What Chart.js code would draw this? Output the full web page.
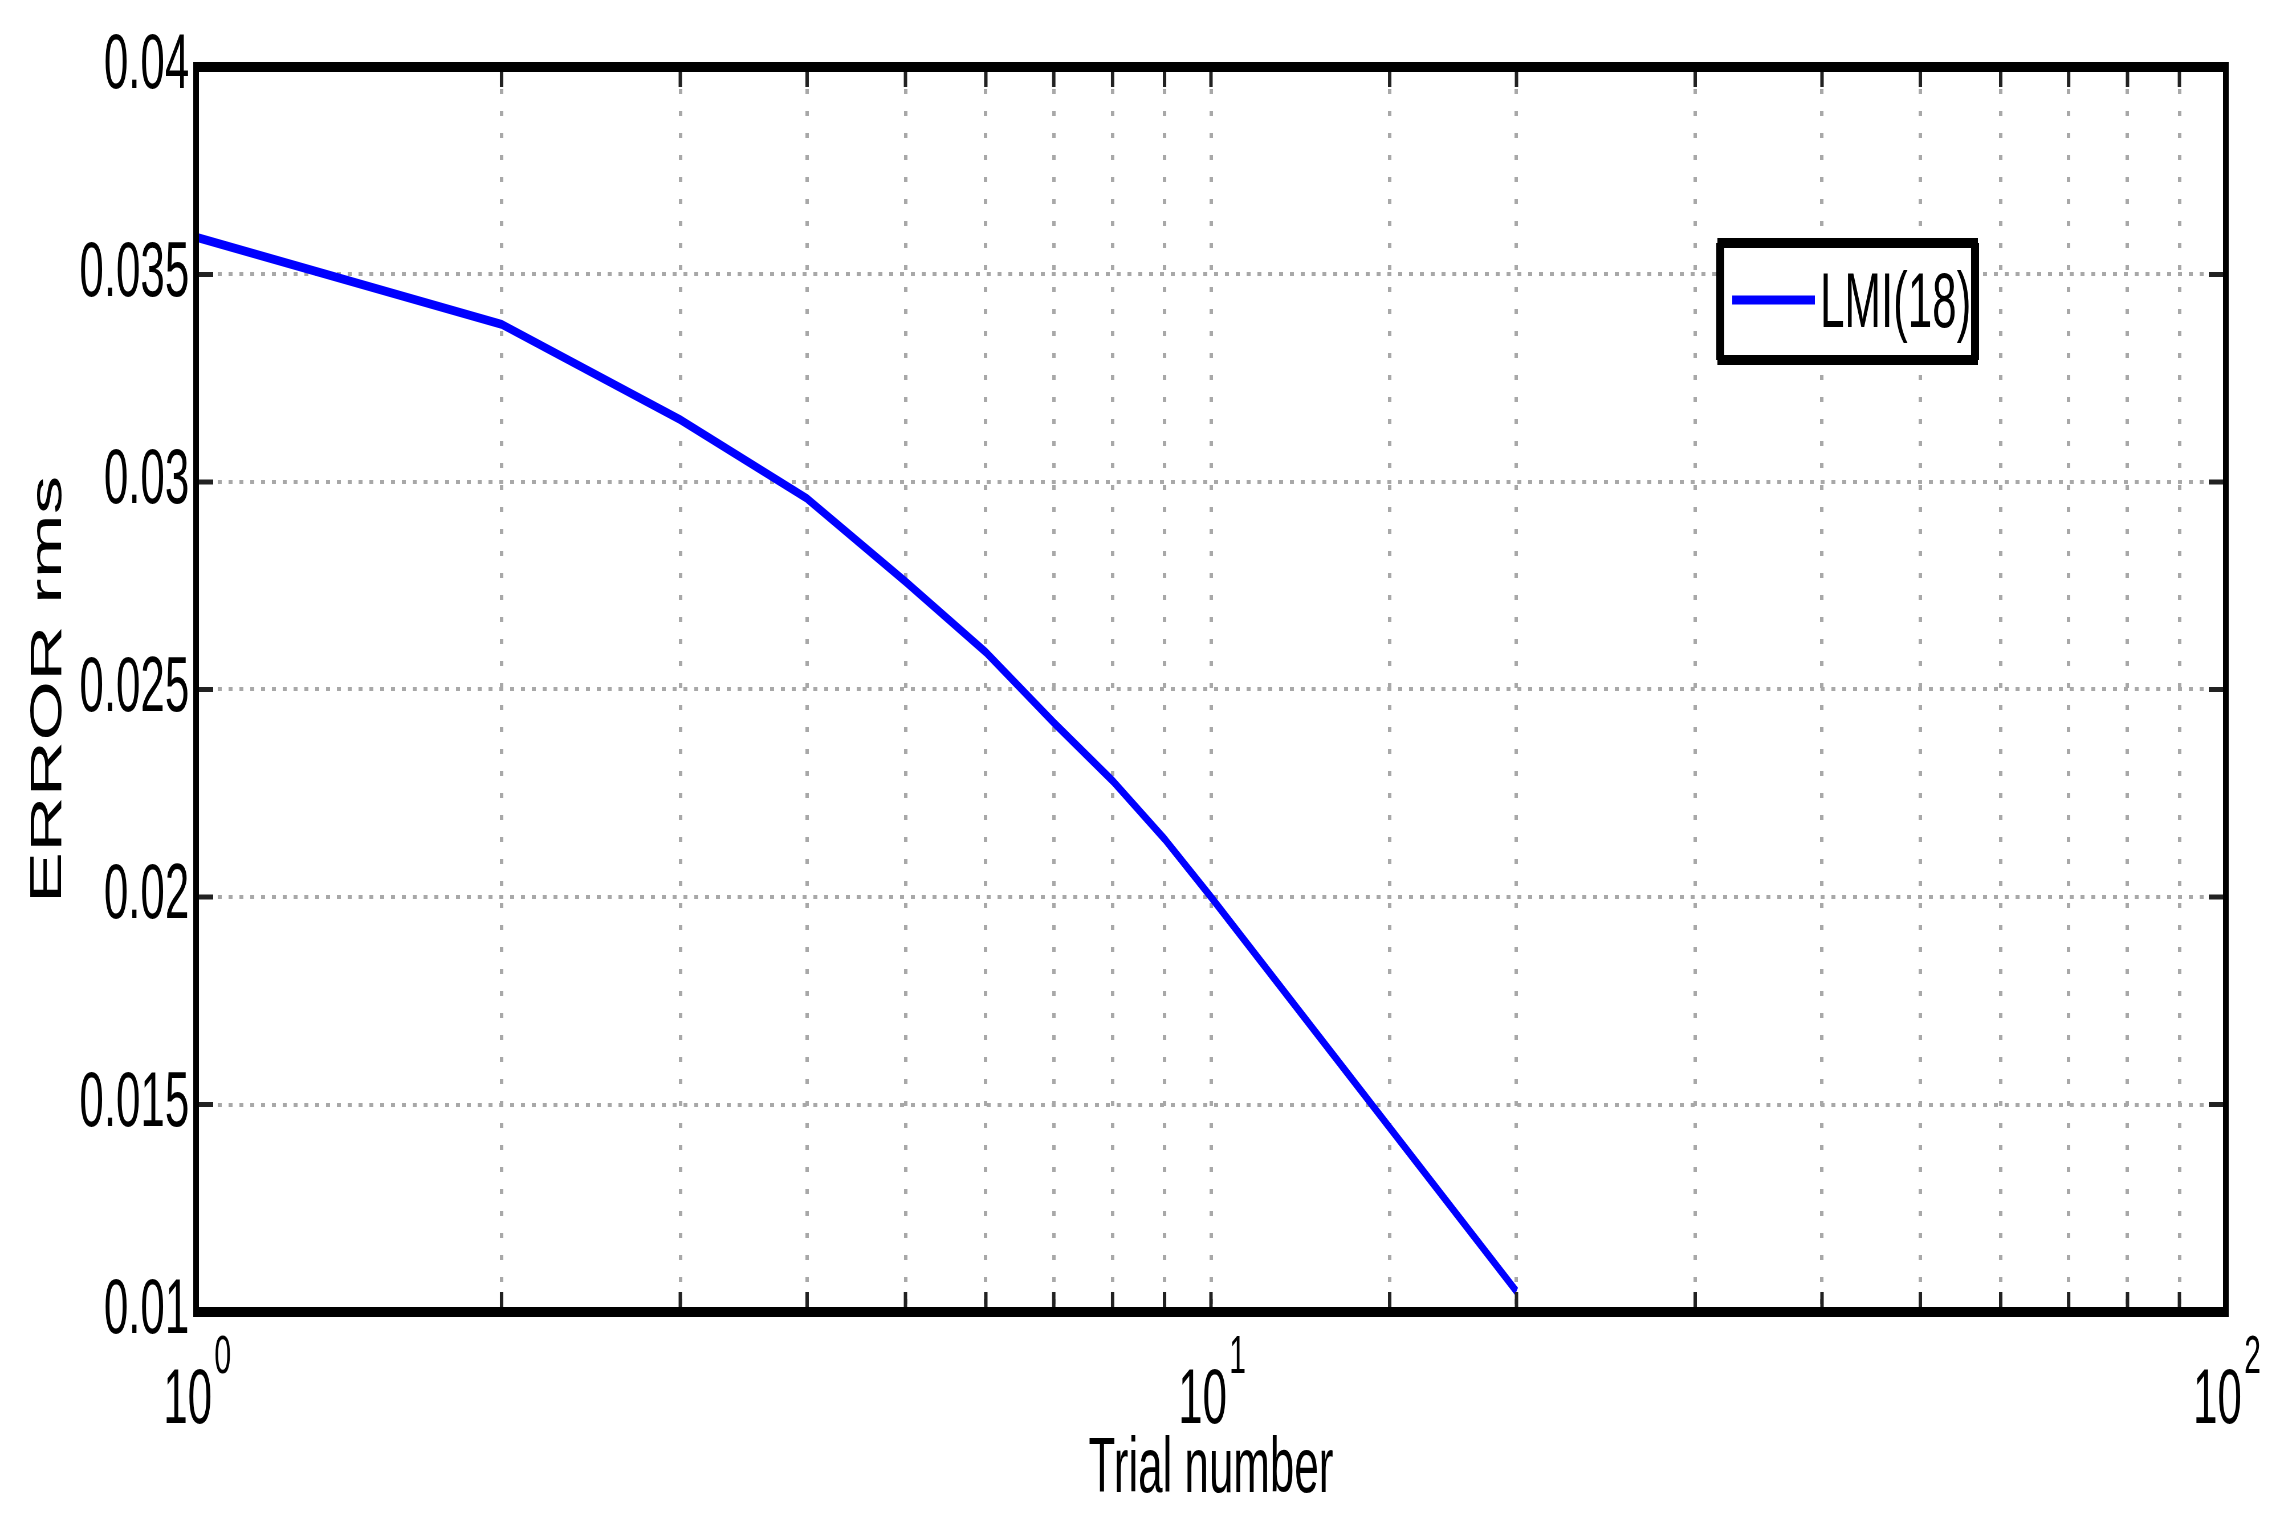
<!DOCTYPE html>
<html>
<head>
<meta charset="utf-8">
<script src="https://cdn.jsdelivr.net/npm/chart.js@4/dist/chart.umd.min.js"></script>
<style>
  html, body { margin: 0; padding: 0; background: #fff; overflow: hidden; }
  /* the reference figure is squeezed sideways, so draw wide and squeeze */
  #wrap { width: 3995px; height: 1532px; transform: scaleX(0.57); transform-origin: 0 0; }
</style>
</head>
<body>
<div id="wrap"><canvas id="errChart"></canvas></div>
<script>
const trials = [1, 2, 3, 4, 5, 6, 7, 8, 9, 10, 20];
const errorRms = [0.0359, 0.0338, 0.0315, 0.0296, 0.0276, 0.0259, 0.0242, 0.0228, 0.0214, 0.0200, 0.0105];
const seriesName = "LMI(18)";
const yTicks = [0.01, 0.015, 0.02, 0.025, 0.03, 0.035, 0.04];
const xDecades = [1, 10, 100];
const xTitle = "Trial number";
const yTitle = "ERROR rms";

const FONT = "'Liberation Sans', Arial, Helvetica, sans-serif";

// inner tick marks, frame, 10^n labels and the boxed legend, MATLAB style
const matlabFrame = {
  id: "matlabFrame",
  afterDraw(chart) {
    const ctx = chart.ctx;
    const a = chart.chartArea;
    const xs = chart.scales.x;
    const ys = chart.scales.y;
    ctx.save();

    ctx.strokeStyle = "#222";
    ctx.lineWidth = 6;
    ctx.beginPath();
    xs.ticks.forEach(t => {
      const px = xs.getPixelForValue(t.value);
      ctx.moveTo(px, a.bottom); ctx.lineTo(px, a.bottom - 20);
      ctx.moveTo(px, a.top); ctx.lineTo(px, a.top + 20);
    });
    ctx.stroke();
    ctx.lineWidth = 5;
    ctx.beginPath();
    ys.ticks.forEach(t => {
      const py = ys.getPixelForValue(t.value);
      ctx.moveTo(a.left, py); ctx.lineTo(a.left + 30, py);
      ctx.moveTo(a.right, py); ctx.lineTo(a.right - 30, py);
    });
    ctx.stroke();

    ctx.strokeStyle = "#000";
    ctx.lineWidth = 10;
    ctx.strokeRect(a.left, a.top, a.right - a.left, a.bottom - a.top);

    // decade labels with raised exponent
    ctx.fillStyle = "#000";
    ctx.textAlign = "left";
    ctx.textBaseline = "alphabetic";
    xDecades.forEach(v => {
      const px = xs.getPixelForValue(v);
      const exp = String(Math.round(Math.log10(v)));
      ctx.font = "77px " + FONT;
      const wBase = ctx.measureText("10").width;
      ctx.font = "53px " + FONT;
      const wExp = ctx.measureText(exp).width;
      const x0 = px - (wBase + wExp) / 2;
      ctx.font = "77px " + FONT;
      ctx.fillText("10", x0, a.bottom + 111);
      ctx.font = "53px " + FONT;
      ctx.fillText(exp, x0 + wBase + 4, a.bottom + 61);
    });

    // legend box
    const ds = chart.data.datasets[0];
    const bx = a.right - 440 - 447, by = a.top + 176, bw = 447, bh = 117;
    ctx.fillStyle = "#fff";
    ctx.fillRect(bx, by, bw, bh);
    ctx.strokeStyle = "#000";
    ctx.lineWidth = 10;
    ctx.strokeRect(bx, by, bw, bh);
    ctx.lineWidth = 14;
    ctx.beginPath();
    ctx.moveTo(bx, by); ctx.lineTo(bx, by + bh);
    ctx.moveTo(bx + bw, by); ctx.lineTo(bx + bw, by + bh);
    ctx.stroke();
    ctx.strokeStyle = ds.borderColor;
    ctx.lineWidth = 9;
    ctx.beginPath();
    ctx.moveTo(bx + 21, by + 57); ctx.lineTo(bx + 166, by + 57);
    ctx.stroke();
    ctx.fillStyle = "#000";
    ctx.font = "77px " + FONT;
    ctx.fillText(ds.label, bx + 175, by + 84);

    ctx.restore();
  }
};

new Chart(document.getElementById("errChart"), {
  type: "line",
  data: {
    datasets: [{
      label: seriesName,
      data: trials.map((t, i) => ({ x: t, y: errorRms[i] })),
      borderColor: "#0000ff",
      borderWidth: 9,
      pointRadius: 0,
      tension: 0,
      fill: false
    }]
  },
  options: {
    responsive: true,
    maintainAspectRatio: false,
    devicePixelRatio: 1,
    animation: false,
    layout: { padding: { left: 0, top: 67, right: 90, bottom: 0 } },
    plugins: { legend: { display: false }, tooltip: { enabled: false } },
    scales: {
      x: {
        type: "logarithmic",
        min: 1,
        max: 100,
        afterFit: s => { s.height = 220; },
        grid: { color: "#a8a8a8", lineWidth: 6, drawTicks: false },
        border: { display: false, dash: [5, 17] },
        ticks: { display: false, autoSkip: false },
        title: {
          display: true,
          text: xTitle,
          color: "#000",
          font: { family: FONT, size: 77 },
          padding: { top: 0, bottom: 15 }
        }
      },
      y: {
        type: "linear",
        min: 0.01,
        max: 0.04,
        afterFit: s => { s.width = 344; },
        afterBuildTicks: s => { s.ticks = yTicks.map(v => ({ value: v })); },
        grid: { color: "#a8a8a8", lineWidth: 4, drawTicks: false },
        border: { display: false, dash: [7, 12] },
        ticks: {
          autoSkip: false,
          padding: 12,
          color: "#000",
          font: { family: FONT, size: 77 },
          callback: v => String(+v.toFixed(3))
        },
        title: {
          display: true,
          text: yTitle,
          color: "#000",
          font: { family: FONT, size: 77 },
          padding: { top: 40, bottom: 0 }
        }
      }
    }
  },
  plugins: [matlabFrame]
});
</script>
</body>
</html>
